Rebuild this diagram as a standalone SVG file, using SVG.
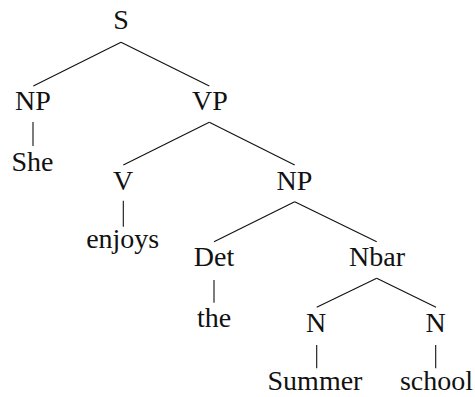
<svg xmlns="http://www.w3.org/2000/svg" width="475" height="397" viewBox="0 0 475 397">
<style>
  text { font-family: "Liberation Serif", "Times New Roman", serif; font-size: 28px; fill: #111; text-anchor: middle; }
  .edge { stroke: #111; stroke-width: 1.1; fill: none; stroke-linecap: butt; }
</style>
<rect width="475" height="397" fill="#fff"/>
<g id="connectors">
  <line class="edge" x1="121" y1="42.3" x2="33.3" y2="86"/>
  <line class="edge" x1="121" y1="42.3" x2="209.3" y2="86"/>
  <line class="edge" x1="33" y1="122" x2="33" y2="146"/>
  <line class="edge" x1="209.3" y1="122.3" x2="123.3" y2="165"/>
  <line class="edge" x1="209.3" y1="122.3" x2="294.7" y2="165"/>
  <line class="edge" x1="123.3" y1="200.7" x2="123.3" y2="226.7"/>
  <line class="edge" x1="294.7" y1="201.7" x2="214" y2="241.7"/>
  <line class="edge" x1="294.7" y1="201.7" x2="376.7" y2="241.7"/>
  <line class="edge" x1="214" y1="280" x2="214" y2="302.7"/>
  <line class="edge" x1="376.7" y1="278.3" x2="316.7" y2="307.3"/>
  <line class="edge" x1="376.7" y1="278.3" x2="436" y2="307.3"/>
  <line class="edge" x1="316.7" y1="345" x2="316.7" y2="368.3"/>
  <line class="edge" x1="435.7" y1="345" x2="435.7" y2="368.3"/>
</g>
<g id="S"><text x="121" y="29">S</text></g>
<g id="NP1"><text x="33" y="110">NP</text></g>
<g id="VP"><text x="210" y="110">VP</text></g>
<g id="She"><text x="32.5" y="171">She</text></g>
<g id="V"><text x="123" y="190">V</text></g>
<g id="NP2"><text x="294.5" y="190">NP</text></g>
<g id="enjoys"><text x="122.7" y="248">enjoys</text></g>
<g id="Det"><text x="214" y="265.5">Det</text></g>
<g id="Nbar"><text x="377" y="265.5">Nbar</text></g>
<g id="the"><text x="214" y="326.7">the</text></g>
<g id="N1"><text x="316" y="331.7">N</text></g>
<g id="N2"><text x="435.5" y="331.7">N</text></g>
<g id="Summer"><text x="315" y="390">Summer</text></g>
<g id="school"><text x="436.5" y="390">school</text></g>
</svg>
